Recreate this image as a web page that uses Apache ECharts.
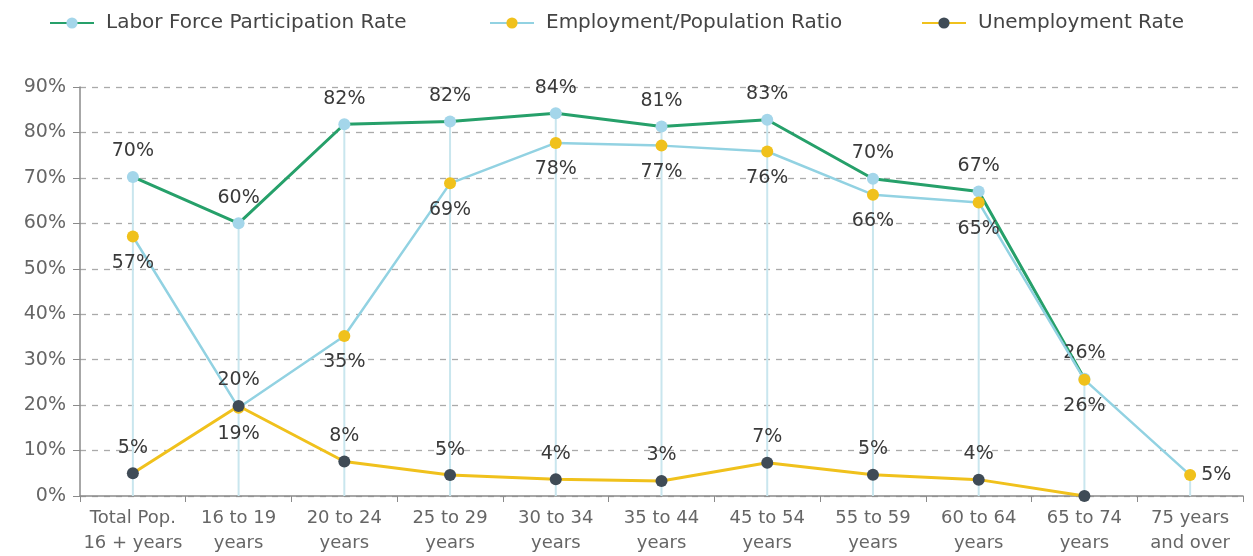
<!DOCTYPE html>
<html>
<head>
<meta charset="utf-8">
<title>Labor force by age</title>
<script src="https://cdn.jsdelivr.net/npm/echarts@6/dist/echarts.min.js"></script>
<style>
    html, body { margin: 0; padding: 0; background: #fff; }
    #main { width: 1253px; height: 556px; }
</style>
</head>
<body>
<div id="main"></div>
<script>
// categories and values
var categories = ["Total Pop.\n16 + years", "16 to 19\nyears", "20 to 24\nyears", "25 to 29\nyears", "30 to 34\nyears",
    "35 to 44\nyears", "45 to 54\nyears", "55 to 59\nyears", "60 to 64\nyears", "65 to 74\nyears", "75 years\nand over"];
var participation = [70.2, 60, 81.8, 82.4, 84.2, 81.3, 82.8, 69.8, 67, 25.8, null];
var employment = [57.1, 19.4, 35.2, 68.8, 77.7, 77.1, 75.8, 66.3, 64.6, 25.6, 4.6];
var unemployment = [5, 19.8, 7.6, 4.6, 3.7, 3.3, 7.3, 4.7, 3.6, 0, null];
var yTicks = [0, 10, 20, 30, 40, 50, 60, 70, 80, 90];

var FONT = "DejaVu Sans";
var GREEN = "#26a06a", BLUE = "#92d2e2", DOT_BLUE = "#a4d6ea", YELLOW = "#f0c11c", DARK = "#3f4b56";

// drop lines go to the highest point of each category
var drops = [];
for (var i = 0; i < categories.length; i++) {
    drops.push(Math.max(participation[i] || 0, employment[i] || 0));
}

function pct(p) {
    if (p.value === 0 || p.value == null) {
        return "";
    }
    return Math.round(p.value) + "%";
}

var chart = echarts.init(document.getElementById("main"));

function legendAt(left, name) {
    return {
        left: left,
        top: 8,
        data: [name],
        itemWidth: 44,
        itemHeight: 14,
        textStyle: { fontFamily: FONT, fontSize: 20, color: "#444", padding: [0, 0, 0, 7] }
    };
}

var option = {
    animation: false,
    textStyle: { fontFamily: FONT },
    legend: [
        legendAt(44, "Labor Force Participation Rate"),
        legendAt(484, "Employment/Population Ratio"),
        legendAt(916, "Unemployment Rate")
    ],
    grid: { left: 80, right: 10, top: 87, bottom: 58 },
    xAxis: {
        type: "category",
        data: categories,
        axisLine: { lineStyle: { color: "#8a8a8a", width: 1.5 } },
        axisTick: { show: true, length: 6, lineStyle: { color: "#8a8a8a" } },
        axisLabel: { fontFamily: FONT, fontSize: 18, color: "#666", lineHeight: 25, margin: 10, interval: 0 }
    },
    yAxis: {
        type: "value",
        min: yTicks[0],
        max: yTicks[yTicks.length - 1],
        interval: 10,
        axisLine: { show: true, lineStyle: { color: "#8a8a8a", width: 1.5 } },
        axisTick: { show: true, length: 7, lineStyle: { color: "#8a8a8a" } },
        axisLabel: { fontFamily: FONT, fontSize: 19, color: "#666", margin: 14, formatter: "{value}%" },
        splitLine: { lineStyle: { color: "#aaaaaa", type: [6, 6], width: 1.3 } }
    },
    series: [
        {
            name: "drop",
            type: "bar",
            data: drops,
            barWidth: 2,
            silent: true,
            z: 1,
            itemStyle: { color: "#c9e6ee" }
        },
        {
            name: "Labor Force Participation Rate",
            type: "line",
            data: participation,
            symbol: "circle",
            symbolSize: 12,
            z: 3,
            lineStyle: { color: GREEN, width: 3 },
            itemStyle: { color: DOT_BLUE },
            label: { show: true, position: "top", distance: 10, fontFamily: FONT, fontSize: 19, color: "#3a3a3a", formatter: pct }
        },
        {
            name: "Employment/Population Ratio",
            type: "line",
            data: employment,
            symbol: "circle",
            symbolSize: 12,
            z: 4,
            lineStyle: { color: BLUE, width: 2.5 },
            itemStyle: { color: YELLOW },
            label: { show: true, position: "bottom", distance: 11, fontFamily: FONT, fontSize: 19, color: "#3a3a3a", formatter: pct },
            labelLayout: function (params) {
                // last point carries its label on the right
                if (params.dataIndex === categories.length - 1) {
                    return {
                        x: params.rect.x + params.rect.width + 5,
                        y: params.rect.y + params.rect.height / 2,
                        align: "left",
                        verticalAlign: "middle"
                    };
                }
            }
        },
        {
            name: "Unemployment Rate",
            type: "line",
            data: unemployment,
            symbol: "circle",
            symbolSize: 12,
            z: 5,
            lineStyle: { color: YELLOW, width: 3 },
            itemStyle: { color: DARK },
            label: { show: true, position: "top", distance: 10, fontFamily: FONT, fontSize: 19, color: "#3a3a3a", formatter: pct }
        }
    ]
};

chart.setOption(option);
</script>
</body>
</html>
